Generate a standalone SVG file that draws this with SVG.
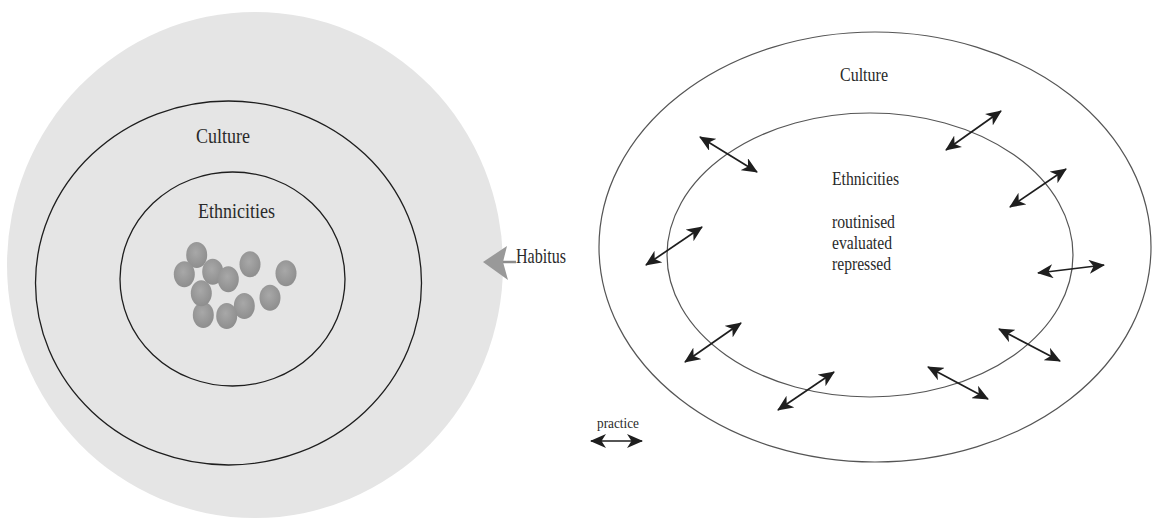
<svg xmlns="http://www.w3.org/2000/svg" width="1153" height="523" viewBox="0 0 1153 523">
  <style>
    .lbl { font-family: "Liberation Serif", "Times New Roman", serif; fill: #2a2a2a; }
    .ring { fill: none; stroke: #1e1e1e; stroke-width: 1.3; }
    .oval { fill: none; stroke: #555; stroke-width: 1.2; }
    .prac { stroke: #1e1e1e; stroke-width: 1.7; fill: none; marker-start: url(#head); marker-end: url(#head); }
    .ball { fill: url(#ballGrad); }
  </style>
  <defs>
    <radialGradient id="ballGrad" cx="0.45" cy="0.4" r="0.6">
      <stop offset="0" stop-color="#a8a8a8"/>
      <stop offset="1" stop-color="#8e8e8e"/>
    </radialGradient>
    <marker id="head" viewBox="0 0 16 14" refX="15" refY="7" markerWidth="16" markerHeight="14" markerUnits="userSpaceOnUse" orient="auto-start-reverse">
      <path d="M0,0 L16,7 L0,14 L4.5,7 Z" fill="#1e1e1e"/>
    </marker>
  </defs>

  <rect width="1153" height="523" fill="#ffffff"/>

  <!-- Left diagram -->
  <g id="habitus-field">
    <ellipse cx="255" cy="265" rx="248" ry="253" fill="#e5e5e5"/>
  </g>
  <g id="culture-left">
    <ellipse class="ring" cx="228.5" cy="283" rx="193" ry="182"/>
    <text class="lbl" x="196" y="143" font-size="21" textLength="54" lengthAdjust="spacingAndGlyphs">Culture</text>
  </g>
  <g id="ethnicities-left">
    <ellipse class="ring" cx="232.5" cy="279" rx="112.5" ry="107"/>
    <text class="lbl" x="198" y="218" font-size="21" textLength="77" lengthAdjust="spacingAndGlyphs">Ethnicities</text>
  </g>
  <g id="ethnic-groups">
    <ellipse class="ball" cx="196.7" cy="255" rx="10.5" ry="13"/>
    <ellipse class="ball" cx="184.3" cy="274.3" rx="10.5" ry="13"/>
    <ellipse class="ball" cx="212.7" cy="271.7" rx="10.5" ry="13"/>
    <ellipse class="ball" cx="228.3" cy="279.3" rx="10.5" ry="13"/>
    <ellipse class="ball" cx="250" cy="264.3" rx="10.5" ry="13"/>
    <ellipse class="ball" cx="286" cy="273.3" rx="10.5" ry="13"/>
    <ellipse class="ball" cx="203.3" cy="315" rx="10.5" ry="13"/>
    <ellipse class="ball" cx="201.3" cy="293.3" rx="10.5" ry="13"/>
    <ellipse class="ball" cx="244.3" cy="306" rx="10.5" ry="13"/>
    <ellipse class="ball" cx="226.7" cy="316" rx="10.5" ry="13"/>
    <ellipse class="ball" cx="270" cy="297.7" rx="10.5" ry="13"/>
  </g>
  <g id="habitus">
    <path d="M503,262 L516,262" stroke="#8c8c8c" stroke-width="2.5"/>
    <path d="M483,262 L507,246 L503,262 L508,280 Z" fill="#999999"/>
    <text class="lbl" x="516" y="263" font-size="21" textLength="50" lengthAdjust="spacingAndGlyphs">Habitus</text>
  </g>

  <!-- Right diagram -->
  <g id="culture-right">
    <ellipse class="oval" cx="875" cy="247" rx="276" ry="215"/>
    <text class="lbl" x="840" y="81" font-size="19" textLength="48" lengthAdjust="spacingAndGlyphs">Culture</text>
  </g>
  <g id="ethnicities-right">
    <ellipse class="oval" cx="870" cy="255" rx="203" ry="142"/>
    <text class="lbl" x="832" y="185" font-size="18" textLength="67" lengthAdjust="spacingAndGlyphs">Ethnicities</text>
    <text class="lbl" x="832" y="228" font-size="18" textLength="63" lengthAdjust="spacingAndGlyphs">routinised</text>
    <text class="lbl" x="832" y="249" font-size="18" textLength="60" lengthAdjust="spacingAndGlyphs">evaluated</text>
    <text class="lbl" x="832" y="270" font-size="18" textLength="59" lengthAdjust="spacingAndGlyphs">repressed</text>
  </g>

  <g id="connectors">
    <line class="prac" x1="700" y1="137" x2="757" y2="172"/>
    <line class="prac" x1="646" y1="265" x2="702" y2="227"/>
    <line class="prac" x1="946" y1="150" x2="1001" y2="111"/>
    <line class="prac" x1="1010" y1="207" x2="1066" y2="169"/>
    <line class="prac" x1="1038" y1="273" x2="1104" y2="265"/>
    <line class="prac" x1="685" y1="362" x2="741" y2="323"/>
    <line class="prac" x1="778" y1="410" x2="834" y2="372"/>
    <line class="prac" x1="928" y1="367" x2="988" y2="399"/>
    <line class="prac" x1="999" y1="329" x2="1060" y2="361"/>
  </g>

  <g id="legend">
    <text class="lbl" x="597" y="428" font-size="14" textLength="42" lengthAdjust="spacingAndGlyphs">practice</text>
    <line class="prac" x1="591" y1="441" x2="642" y2="441"/>
  </g>
</svg>
